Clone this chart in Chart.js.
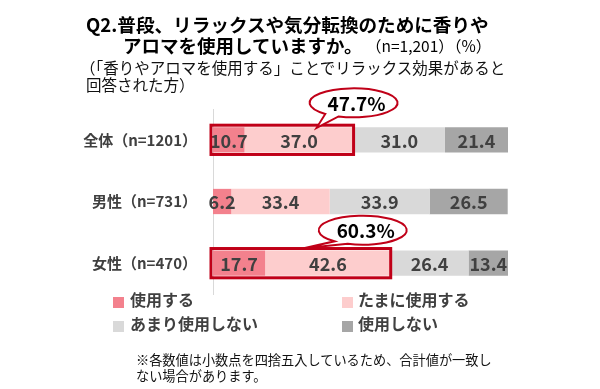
<!DOCTYPE html>
<html><head><meta charset="utf-8">
<script src="https://cdn.jsdelivr.net/npm/chart.js@4"></script>
<style>
html,body{margin:0;padding:0;background:#fff;}
#wrap{position:relative;width:600px;height:389px;font-family:"Noto Sans CJK JP","Noto Sans",sans-serif;}
canvas{position:absolute;left:0;top:0;}
.t{position:absolute;white-space:nowrap;line-height:1;}
#leg .item{position:absolute;white-space:nowrap;font-weight:bold;font-size:16px;color:#404040;line-height:1;}
#leg .sw{position:absolute;width:11px;height:11px;}
</style></head>
<body>
<div id="wrap">
<canvas id="c" width="600" height="389"></canvas>
<div class="t" style="left:86px;top:15px;font-size:18.6px;font-weight:bold;color:#000;">Q2.普段、リラックスや気分転換のために香りや</div>
<div class="t" style="left:123px;top:36px;font-size:18.5px;font-weight:bold;color:#000;">アロマを使用していますか。<span style="font-weight:normal;font-size:15.5px;position:relative;top:-1px;">&nbsp;（n=1,201）（%）</span></div>
<div class="t" style="left:80px;top:60px;font-size:15.5px;color:#111;">（「香りやアロマを使用する」ことでリラックス効果があると</div>
<div class="t" style="left:86px;top:77px;font-size:15.5px;color:#111;">回答された方）</div>
<div id="leg"></div>
<div class="t" style="left:136px;top:353px;font-size:13.2px;color:#111;">※各数値は小数点を四捨五入しているため、合計値が一致し</div>
<div class="t" style="left:136px;top:369px;font-size:13.2px;color:#111;">ない場合があります。</div>
</div>
<script>
const categories = ["全体（n=1201）", "男性（n=731）", "女性（n=470）"];
const seriesNames = ["使用する", "たまに使用する", "あまり使用しない", "使用しない"];
const useOften = [10.7, 6.2, 17.7];
const useSometimes = [37.0, 33.4, 42.6];
const useRarely = [31.0, 33.9, 26.4];
const useNever = [21.4, 26.5, 13.4];
const highlightTotals = [47.7, null, 60.3];

const colors = ["#f3818d", "#fdcdcd", "#d9d9d9", "#a6a6a6"];
const red = "#c00018";
const FONT = '"Noto Sans CJK JP","Noto Sans",sans-serif';
// callout placement relative to highlight box right edge / bar center
const calloutStyle = [{dx:0, dy:-37, tx:-37, ty:25}, null, {dx:-28, dy:-33, tx:-59, ty:18}];

// legend (HTML, built from series)
const legPos = [[113,130,291],[342,358,291],[113,130,315],[342,358,315]];
const leg = document.getElementById('leg');
seriesNames.forEach((n,i)=>{
  const [sx,tx,ty] = legPos[i];
  const sw = document.createElement('div'); sw.className='sw';
  sw.style.left=sx+'px'; sw.style.top=(ty+6)+'px'; sw.style.background=colors[i];
  leg.appendChild(sw);
  const it = document.createElement('div'); it.className='item';
  it.style.left=tx+'px'; it.style.top=ty+'px'; it.textContent=n;
  leg.appendChild(it);
});

const labelPlugin = {
  id:'labels',
  afterDatasetsDraw(chart){
    const ctx = chart.ctx;
    ctx.save();
    ctx.font = 'bold 18px ' + FONT;
    ctx.fillStyle = '#404040';
    ctx.textAlign = 'center';
    ctx.textBaseline = 'middle';
    chart.data.datasets.forEach((ds,di)=>{
      const meta = chart.getDatasetMeta(di);
      meta.data.forEach((el,i)=>{
        const cx = (el.x + el.base)/2;
        ctx.fillText(ds.data[i].toFixed(1), cx, el.y+1);
      });
    });
    ctx.restore();
  }
};

const highlightPlugin = {
  id:'highlight',
  afterDraw(chart){
    const ctx = chart.ctx;
    const xs = chart.scales.x;
    const meta0 = chart.getDatasetMeta(0);
    ctx.save();
    highlightTotals.forEach((tot,i)=>{
      if (tot == null) return;
      const el = meta0.data[i];
      const left = el.base - 2;
      const right = xs.getPixelForValue(useOften[i] + useSometimes[i]);
      const h = el.height;
      const top = el.y - h/2 - 2, bot = el.y + h/2 + 2;
      ctx.strokeStyle = red; ctx.lineWidth = 3;
      ctx.strokeRect(left, top, right-left, bot-top);
      const st = calloutStyle[i];
      const cx = right + st.dx, cy = el.y + st.dy;
      const rx = 44, ry = 14.5;
      const a1 = 110*Math.PI/180, a2 = 130*Math.PI/180;
      ctx.beginPath();
      ctx.ellipse(cx, cy, rx, ry, 0, a2, a1 + 2*Math.PI);
      ctx.lineTo(cx + st.tx, cy + st.ty);
      ctx.closePath();
      ctx.fillStyle = '#fff'; ctx.fill();
      ctx.lineWidth = 2; ctx.strokeStyle = red; ctx.stroke();
      ctx.fillStyle = '#000';
      ctx.font = 'bold 19px ' + FONT;
      ctx.textAlign = 'center'; ctx.textBaseline = 'middle';
      ctx.fillText(tot.toFixed(1) + '%', cx + 3, cy + 1);
    });
    ctx.restore();
  }
};

const seriesData = [useOften, useSometimes, useRarely, useNever];
new Chart(document.getElementById('c'), {
  type:'bar',
  data:{
    labels: categories,
    datasets: seriesNames.map((n,i)=>({
      label:n, data:seriesData[i], backgroundColor:colors[i],
      borderWidth:0, barPercentage:0.41, categoryPercentage:1
    }))
  },
  options:{
    indexAxis:'y',
    responsive:false,
    animation:false,
    layout:{padding:{top:109,bottom:95,right:92,left:0}},
    plugins:{legend:{display:false}, tooltip:{enabled:false}},
    scales:{
      x:{stacked:true, min:0, max:100.1, display:false},
      y:{stacked:true,
         grid:{display:false, drawTicks:false},
         border:{display:true, color:'#d9d9d9', width:1},
         ticks:{padding:16, color:'#404040', font:{family:FONT, size:15, weight:'bold'}},
         afterFit(scale){ scale.width = 213; }
      }
    }
  },
  plugins:[labelPlugin, highlightPlugin]
});
</script>
</body></html>
